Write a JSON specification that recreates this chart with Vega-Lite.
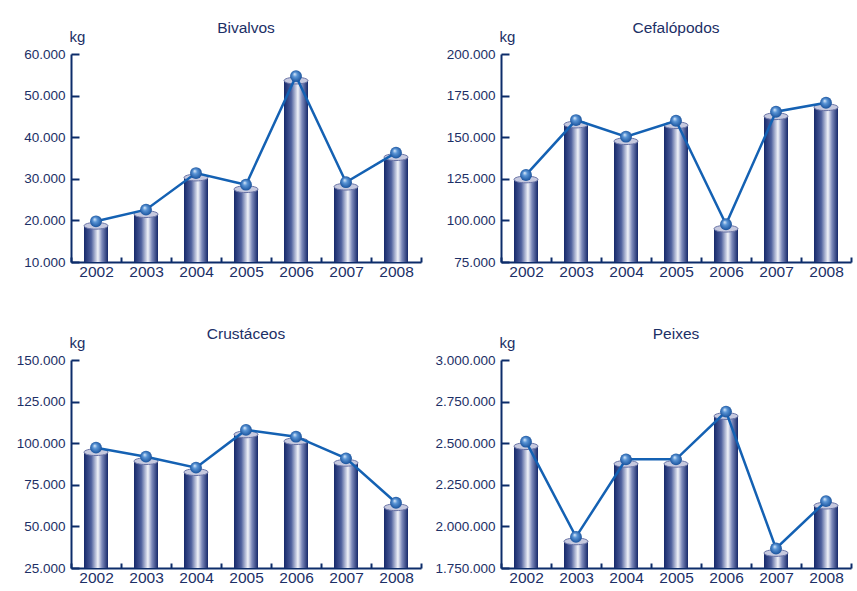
{
  "$schema": "https://vega.github.io/schema/vega-lite/v6.json",
  "description": "Capturas por grupo de espécies, 2002-2008 (kg)",
  "padding": {"left": 16, "top": 20, "right": 2, "bottom": 2},
  "background": "white",
  "datasets": {
    "capturas": [
      {"grupo": "Bivalvos", "ano": "2002", "kg": 18700},
      {"grupo": "Bivalvos", "ano": "2003", "kg": 21500},
      {"grupo": "Bivalvos", "ano": "2004", "kg": 30300},
      {"grupo": "Bivalvos", "ano": "2005", "kg": 27500},
      {"grupo": "Bivalvos", "ano": "2006", "kg": 53600},
      {"grupo": "Bivalvos", "ano": "2007", "kg": 28100},
      {"grupo": "Bivalvos", "ano": "2008", "kg": 35200},
      {"grupo": "Cefalópodos", "ano": "2002", "kg": 124600},
      {"grupo": "Cefalópodos", "ano": "2003", "kg": 157600},
      {"grupo": "Cefalópodos", "ano": "2004", "kg": 147600},
      {"grupo": "Cefalópodos", "ano": "2005", "kg": 157200},
      {"grupo": "Cefalópodos", "ano": "2006", "kg": 95000},
      {"grupo": "Cefalópodos", "ano": "2007", "kg": 162600},
      {"grupo": "Cefalópodos", "ano": "2008", "kg": 168000},
      {"grupo": "Crustáceos", "ano": "2002", "kg": 94600},
      {"grupo": "Crustáceos", "ano": "2003", "kg": 89200},
      {"grupo": "Crustáceos", "ano": "2004", "kg": 82600},
      {"grupo": "Crustáceos", "ano": "2005", "kg": 105300},
      {"grupo": "Crustáceos", "ano": "2006", "kg": 101200},
      {"grupo": "Crustáceos", "ano": "2007", "kg": 88200},
      {"grupo": "Crustáceos", "ano": "2008", "kg": 61500},
      {"grupo": "Peixes", "ano": "2002", "kg": 2482000},
      {"grupo": "Peixes", "ano": "2003", "kg": 1910000},
      {"grupo": "Peixes", "ano": "2004", "kg": 2376000},
      {"grupo": "Peixes", "ano": "2005", "kg": 2376000},
      {"grupo": "Peixes", "ano": "2006", "kg": 2663000},
      {"grupo": "Peixes", "ano": "2007", "kg": 1840000},
      {"grupo": "Peixes", "ano": "2008", "kg": 2125000}
    ]
  },
  "data": {"name": "capturas"},
  "bounds": "flush",
  "columns": 2,
  "spacing": {"row": 98, "column": 80},
  "concat": [
    {
      "title": "Bivalvos",
      "width": 350,
      "height": 208,
      "transform": [{"filter": "datum.grupo === 'Bivalvos'"}],
      "encoding": {
        "x": {"field": "ano", "type": "ordinal", "title": null, "scale": {"paddingInner": 0, "paddingOuter": 0}},
        "y": {
          "field": "kg", "type": "quantitative", "title": "kg",
          "scale": {"domain": [10000, 60000], "nice": false, "zero": false},
          "axis": {"values": [10000, 20000, 30000, 40000, 50000, 60000]}
        }
      },
      "layer": [
        {
          "mark": {"type": "bar", "width": 24, "color": {"gradient": "linear", "x1": 0, "x2": 1, "y1": 0, "y2": 0, "stops": [{"offset": 0, "color": "#16296a"}, {"offset": 0.3, "color": "#4e5f9c"}, {"offset": 0.58, "color": "#f2f3f9"}, {"offset": 0.75, "color": "#7d8abb"}, {"offset": 1, "color": "#16296a"}]}},
          "encoding": {"y2": {"datum": 10000}}
        },
        {"mark": {"type": "point", "shape": "M-1,0 A1,0.28 0 1,0 1,0 A1,0.28 0 1,0 -1,0 Z", "size": 576, "filled": true, "color": "#c6c9df", "stroke": "#6a74a6", "strokeWidth": 1, "opacity": 1}},
        {"mark": {"type": "line", "color": "#1461b3", "strokeWidth": 2.5, "yOffset": -4.5}},
        {"mark": {"type": "point", "shape": "circle", "size": 140, "filled": true, "opacity": 1, "yOffset": -4.5, "color": {"gradient": "radial", "x1": 0.38, "y1": 0.32, "r1": 0, "x2": 0.5, "y2": 0.5, "r2": 0.55, "stops": [{"offset": 0, "color": "#e4eefb"}, {"offset": 0.35, "color": "#5a95d6"}, {"offset": 1, "color": "#124b96"}]}}}
      ]
    },
    {
      "title": "Cefalópodos",
      "width": 350,
      "height": 208,
      "transform": [{"filter": "datum.grupo === 'Cefalópodos'"}],
      "encoding": {
        "x": {"field": "ano", "type": "ordinal", "title": null, "scale": {"paddingInner": 0, "paddingOuter": 0}},
        "y": {
          "field": "kg", "type": "quantitative", "title": "kg",
          "scale": {"domain": [75000, 200000], "nice": false, "zero": false},
          "axis": {"values": [75000, 100000, 125000, 150000, 175000, 200000]}
        }
      },
      "layer": [
        {
          "mark": {"type": "bar", "width": 24, "color": {"gradient": "linear", "x1": 0, "x2": 1, "y1": 0, "y2": 0, "stops": [{"offset": 0, "color": "#16296a"}, {"offset": 0.3, "color": "#4e5f9c"}, {"offset": 0.58, "color": "#f2f3f9"}, {"offset": 0.75, "color": "#7d8abb"}, {"offset": 1, "color": "#16296a"}]}},
          "encoding": {"y2": {"datum": 75000}}
        },
        {"mark": {"type": "point", "shape": "M-1,0 A1,0.28 0 1,0 1,0 A1,0.28 0 1,0 -1,0 Z", "size": 576, "filled": true, "color": "#c6c9df", "stroke": "#6a74a6", "strokeWidth": 1, "opacity": 1}},
        {"mark": {"type": "line", "color": "#1461b3", "strokeWidth": 2.5, "yOffset": -4.5}},
        {"mark": {"type": "point", "shape": "circle", "size": 140, "filled": true, "opacity": 1, "yOffset": -4.5, "color": {"gradient": "radial", "x1": 0.38, "y1": 0.32, "r1": 0, "x2": 0.5, "y2": 0.5, "r2": 0.55, "stops": [{"offset": 0, "color": "#e4eefb"}, {"offset": 0.35, "color": "#5a95d6"}, {"offset": 1, "color": "#124b96"}]}}}
      ]
    },
    {
      "title": "Crustáceos",
      "width": 350,
      "height": 208,
      "transform": [{"filter": "datum.grupo === 'Crustáceos'"}],
      "encoding": {
        "x": {"field": "ano", "type": "ordinal", "title": null, "scale": {"paddingInner": 0, "paddingOuter": 0}},
        "y": {
          "field": "kg", "type": "quantitative", "title": "kg",
          "scale": {"domain": [25000, 150000], "nice": false, "zero": false},
          "axis": {"values": [25000, 50000, 75000, 100000, 125000, 150000]}
        }
      },
      "layer": [
        {
          "mark": {"type": "bar", "width": 24, "color": {"gradient": "linear", "x1": 0, "x2": 1, "y1": 0, "y2": 0, "stops": [{"offset": 0, "color": "#16296a"}, {"offset": 0.3, "color": "#4e5f9c"}, {"offset": 0.58, "color": "#f2f3f9"}, {"offset": 0.75, "color": "#7d8abb"}, {"offset": 1, "color": "#16296a"}]}},
          "encoding": {"y2": {"datum": 25000}}
        },
        {"mark": {"type": "point", "shape": "M-1,0 A1,0.28 0 1,0 1,0 A1,0.28 0 1,0 -1,0 Z", "size": 576, "filled": true, "color": "#c6c9df", "stroke": "#6a74a6", "strokeWidth": 1, "opacity": 1}},
        {"mark": {"type": "line", "color": "#1461b3", "strokeWidth": 2.5, "yOffset": -4.5}},
        {"mark": {"type": "point", "shape": "circle", "size": 140, "filled": true, "opacity": 1, "yOffset": -4.5, "color": {"gradient": "radial", "x1": 0.38, "y1": 0.32, "r1": 0, "x2": 0.5, "y2": 0.5, "r2": 0.55, "stops": [{"offset": 0, "color": "#e4eefb"}, {"offset": 0.35, "color": "#5a95d6"}, {"offset": 1, "color": "#124b96"}]}}}
      ]
    },
    {
      "title": "Peixes",
      "width": 350,
      "height": 208,
      "transform": [{"filter": "datum.grupo === 'Peixes'"}],
      "encoding": {
        "x": {"field": "ano", "type": "ordinal", "title": null, "scale": {"paddingInner": 0, "paddingOuter": 0}},
        "y": {
          "field": "kg", "type": "quantitative", "title": "kg",
          "scale": {"domain": [1750000, 3000000], "nice": false, "zero": false},
          "axis": {"values": [1750000, 2000000, 2250000, 2500000, 2750000, 3000000]}
        }
      },
      "layer": [
        {
          "mark": {"type": "bar", "width": 24, "color": {"gradient": "linear", "x1": 0, "x2": 1, "y1": 0, "y2": 0, "stops": [{"offset": 0, "color": "#16296a"}, {"offset": 0.3, "color": "#4e5f9c"}, {"offset": 0.58, "color": "#f2f3f9"}, {"offset": 0.75, "color": "#7d8abb"}, {"offset": 1, "color": "#16296a"}]}},
          "encoding": {"y2": {"datum": 1750000}}
        },
        {"mark": {"type": "point", "shape": "M-1,0 A1,0.28 0 1,0 1,0 A1,0.28 0 1,0 -1,0 Z", "size": 576, "filled": true, "color": "#c6c9df", "stroke": "#6a74a6", "strokeWidth": 1, "opacity": 1}},
        {"mark": {"type": "line", "color": "#1461b3", "strokeWidth": 2.5, "yOffset": -4.5}},
        {"mark": {"type": "point", "shape": "circle", "size": 140, "filled": true, "opacity": 1, "yOffset": -4.5, "color": {"gradient": "radial", "x1": 0.38, "y1": 0.32, "r1": 0, "x2": 0.5, "y2": 0.5, "r2": 0.55, "stops": [{"offset": 0, "color": "#e4eefb"}, {"offset": 0.35, "color": "#5a95d6"}, {"offset": 1, "color": "#124b96"}]}}}
      ]
    }
  ],
  "config": {
    "locale": {"number": {"decimal": ",", "thousands": ".", "grouping": [3], "currency": ["", " €"]}},
    "view": {"stroke": null},
    "font": "Liberation Sans",
    "title": {"fontSize": 15.5, "fontWeight": "normal", "color": "#1c2f66", "anchor": "middle", "offset": 0, "dy": 11},
    "axis": {"domainColor": "#0c2c6a", "domainWidth": 2, "tickColor": "#0c2c6a", "tickWidth": 2, "grid": false, "labelColor": "#1c2f66", "titleColor": "#1c2f66"},
    "axisX": {"tickBand": "extent", "tickSize": -5, "labelPadding": 7, "labelFontSize": 15.5, "labelFont": "Liberation Sans", "labelAngle": 0},
    "axisY": {"tickSize": -8, "labelPadding": 14, "labelFontSize": 13.5, "labelFont": "Liberation Sans", "format": ",d", "titleAngle": 0, "titleAlign": "left", "titleBaseline": "alphabetic", "titleX": -2, "titleY": -13, "titleFontSize": 15, "titleFontWeight": "normal", "titleFont": "Liberation Sans"}
  }
}
